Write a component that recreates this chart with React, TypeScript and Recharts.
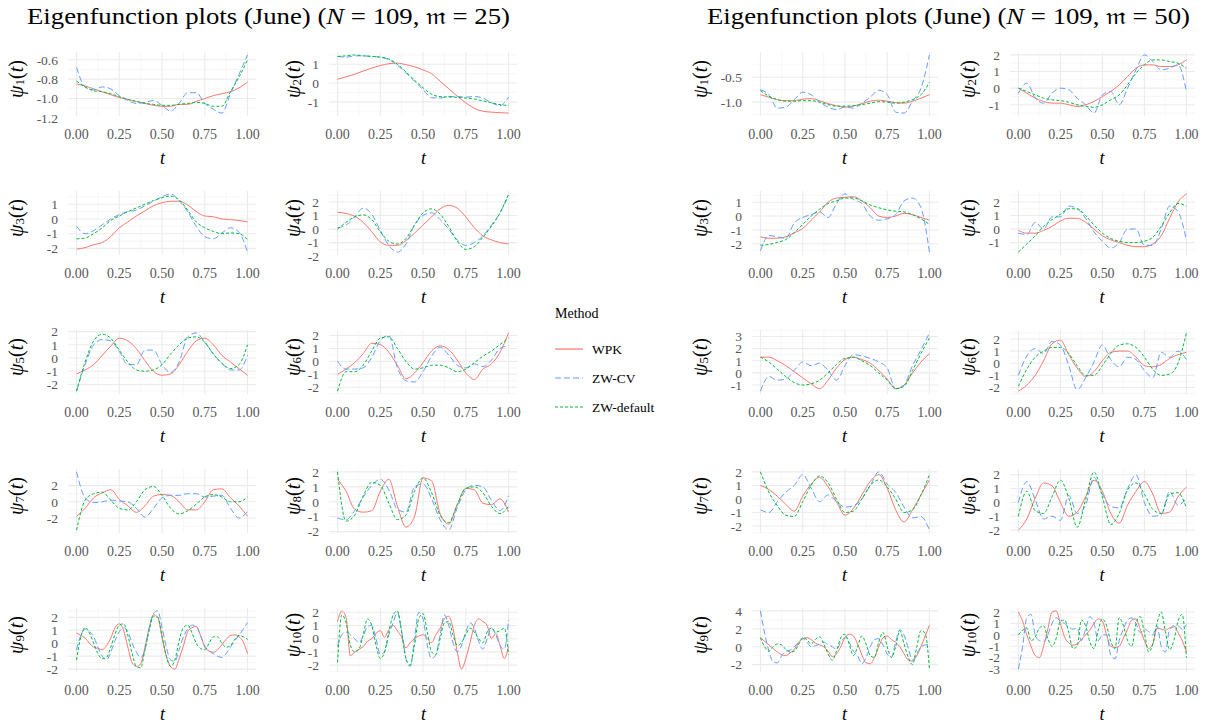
import React from "react";
import { LineChart, Line, XAxis, YAxis, CartesianGrid } from "recharts";

// sample grids (t)
const T21 = [0, 0.05, 0.1, 0.15, 0.2, 0.25, 0.3, 0.35, 0.4, 0.45, 0.5, 0.55, 0.6, 0.65, 0.7, 0.75, 0.8, 0.85, 0.9, 0.95, 1];
const T41 = [
  0, 0.025, 0.05, 0.075, 0.1, 0.125, 0.15, 0.175, 0.2, 0.225, 0.25, 0.275, 0.3, 0.325, 0.35, 0.375, 0.4, 0.425, 0.45, 0.475,
  0.5, 0.525, 0.55, 0.575, 0.6, 0.625, 0.65, 0.675, 0.7, 0.725, 0.75, 0.775, 0.8, 0.825, 0.85, 0.875, 0.9, 0.925, 0.95, 0.975, 1,
];
const X_TICKS = [0, 0.25, 0.5, 0.75, 1];
const X_MINOR = [0.125, 0.375, 0.625, 0.875];

const METHODS = ["WPK", "ZW-CV", "ZW-default"];

// ---- m = 25 ----
const L1_WPK = [-0.85, -0.87, -0.9, -0.93, -0.96, -0.99, -1.01, -1.03, -1.05, -1.07, -1.08, -1.08, -1.06, -1.06, -1.03, -1.0, -0.97, -0.95, -0.93, -0.89, -0.83];
const L1_CV = [-0.68, -0.88, -0.91, -0.88, -0.9, -0.97, -1.02, -1.05, -1.04, -1.02, -1.07, -1.13, -1.05, -0.94, -0.94, -1.05, -1.11, -1.15, -0.95, -0.75, -0.55];
const L1_DEF = [-0.82, -0.88, -0.92, -0.93, -0.95, -0.98, -1.01, -1.03, -1.05, -1.06, -1.07, -1.07, -1.06, -1.05, -1.04, -1.05, -1.08, -1.08, -0.93, -0.78, -0.6];

const L2_WPK = [0.2, 0.33, 0.47, 0.64, 0.8, 0.93, 1.03, 1.06, 0.98, 0.87, 0.7, 0.5, 0.1, -0.3, -0.7, -1.05, -1.35, -1.5, -1.55, -1.58, -1.6];
const L2_CV = [1.42, 1.38, 1.45, 1.45, 1.42, 1.38, 1.25, 0.95, 0.55, 0.1, -0.35, -0.78, -0.8, -0.72, -0.72, -0.75, -0.72, -0.8, -1.05, -1.2, -0.75];
const L2_DEF = [1.42, 1.45, 1.5, 1.45, 1.42, 1.38, 1.28, 1.0, 0.6, 0.15, -0.25, -0.6, -0.72, -0.74, -0.76, -0.8, -0.85, -0.95, -1.05, -1.15, -1.2];

const L3_WPK = [-2.05, -1.95, -1.75, -1.6, -1.2, -0.6, -0.2, 0.2, 0.55, 0.9, 1.1, 1.2, 1.2, 0.95, 0.5, 0.2, 0.15, 0.0, -0.05, -0.1, -0.2];
const L3_CV = [-0.5, -1.0, -0.8, -0.4, 0.0, 0.3, 0.5, 0.6, 0.9, 1.2, 1.5, 1.7, 1.25, 0.5, -0.5, -1.2, -1.35, -0.95, -0.6, -0.9, -2.25];
const L3_DEF = [-1.35, -1.3, -1.0, -0.6, -0.1, 0.2, 0.5, 0.75, 1.0, 1.25, 1.45, 1.55, 1.3, 0.6, -0.2, -0.6, -0.85, -1.0, -0.95, -1.0, -1.4];

const L4_WPK = [1.25, 1.15, 0.95, 0.5, -0.2, -0.95, -1.2, -1.2, -0.85, -0.3, 0.3, 0.9, 1.5, 1.75, 1.55, 0.9, 0.1, -0.5, -0.8, -1.0, -1.1];
const L4_CV = [0.1, 0.3, 0.9, 1.55, 1.1, -0.1, -1.2, -1.7, -1.1, 0.3, 1.0, 1.2, 0.7, 0.0, -0.8, -1.2, -1.0, -0.5, 0.3, 1.2, 2.5];
const L4_DEF = [0.0, 0.5, 0.9, 1.05, 0.7, -0.2, -0.9, -1.1, -0.7, 0.3, 1.2, 1.5, 1.1, 0.2, -0.9, -1.5, -1.3, -0.6, 0.2, 1.2, 2.6];

const L5_WPK = [-1.2, -0.9, -0.5, 0.2, 0.9, 1.5, 1.3, 0.7, -0.2, -1.0, -1.3, -1.2, -0.5, 0.5, 1.3, 1.5, 1.0, 0.2, -0.3, -0.8, -1.3];
const L5_CV = [-2.5, -0.5, 1.0, 1.4, 1.3, 0.5, -0.5, -0.5, 0.6, 0.6, -0.5, -1.1, -0.3, 1.6, 1.9, 1.2, 0.3, -0.4, -0.9, -0.9, 0.2];
const L5_DEF = [-2.5, -0.3, 1.3, 1.8, 1.5, 0.6, -0.3, -0.9, -1.0, -0.9, -0.5, 0.3, 1.0, 1.5, 1.6, 1.2, 0.3, -0.4, -0.8, -0.5, 1.0];

const L6_WPK = [-1.0, -0.6, -0.1, 0.6, 1.4, 1.3, 0.7, -0.3, -1.35, -0.9, -0.1, 0.8, 1.2, 0.9, 0.1, -0.9, -1.4, -0.6, -0.2, 0.7, 2.2];
const L6_CV = [0.0, -0.6, -0.6, -0.5, 0.3, 1.6, 2.0, -0.5, -1.5, -1.6, -0.8, 0.4, 1.1, 0.5, -0.3, -0.5, -0.2, -0.4, 0.1, 1.0, 1.2];
const L6_DEF = [-2.3, -0.8, -0.8, -0.3, 0.8, 1.8, 1.9, 1.0, 0.0, -0.6, -0.5, -0.3, -0.3, -0.5, -0.8, -0.6, -0.1, 0.4, 0.8, 1.3, 1.8];

const L7_WPK = [-1.8, -0.8, 0.5, 1.1, 1.5, 0.3, -0.5, -1.3, -0.5, 0.7, 0.9, 0.8, 0.0, -1.0, -1.0, 0.0, 1.5, 1.6, 0.5, -0.5, -1.8];
const L7_CV = [3.7, 0.5, -0.1, 0.0, 0.2, 0.1, 0.0, -0.8, -1.9, -0.8, 0.5, 0.8, 0.8, 1.0, 1.0, 0.6, 0.7, 0.8, -0.8, -2.0, -1.2];
const L7_DEF = [-3.5, 0.2, 1.0, 1.2, 0.2, -0.8, -1.0, 0.0, 1.5, 1.9, 0.8, -0.8, -1.5, -1.1, -0.3, 0.6, 0.9, 0.6, 0.0, 0.0, 0.6];

const L8_WPK = [1.5, 0.7, -0.5, -0.7, -0.6, 0.7, 1.5, -0.3, -1.7, -1.0, 1.6, 1.4, -0.8, -1.5, -0.2, 0.9, 0.8, -0.1, -0.2, 0.2, -0.7];
const L8_CV = [-1.1, -1.2, -0.6, 0.3, 1.1, 1.5, 0.8, -0.5, -0.7, 1.0, 1.2, 0.2, -1.2, -1.9, -0.4, 0.8, 1.1, 1.0, 0.1, -0.6, 0.4];
const L8_DEF = [2.0, -1.3, -0.9, 0.4, 1.3, 1.1, -0.1, -1.2, -0.9, 0.7, 1.6, 0.6, -0.9, -1.4, -0.2, 0.9, 1.0, 0.6, -0.3, -0.8, -0.3];

const L9_WPK = [0.8, 0.6, 0.4, 0.0, -0.3, -0.4, -0.5, -0.2, 0.4, 1.2, 1.5, 1.0, -0.3, -1.5, -1.8, -1.6, -0.3, 1.2, 2.2, 2.0, 0.5, -1.0, -1.8, -2.0, -1.2, -0.2, 0.9, 1.2, 1.3, 0.6, -0.3, -0.6, -0.7, -0.5, -0.1, 0.3, 0.6, 0.65, 0.5, 0.1, -0.8];
const L9_CV = [-0.5, 0.6, 1.1, 0.9, 0.5, -0.3, -1.0, -1.3, -0.7, 0.2, 0.9, 1.2, 0.9, 0.0, -0.7, -1.1, -0.5, 1.2, 2.3, 2.5, 1.2, -0.3, -1.3, -1.4, -0.5, 0.5, 1.1, 1.4, 1.3, 0.6, -0.2, -0.6, -0.8, -1.0, -1.1, -0.8, -0.3, 0.2, 0.6, 1.1, 1.6];
const L9_DEF = [-1.3, 0.5, 1.2, 0.8, 0.0, -0.8, -1.2, -1.1, -0.3, 0.7, 1.4, 1.5, 0.6, -0.8, -1.8, -1.9, -0.5, 1.0, 2.1, 2.0, 0.5, -1.0, -1.8, -1.3, 0.2, 1.2, 1.4, 0.8, 0.0, -0.4, -0.5, 0.0, 0.5, 0.5, 0.0, -0.3, -0.2, 0.3, 0.6, 0.5, 0.3];

const L10_WPK = [1.3, 2.1, 1.6, -1.3, -1.0, -0.8, -0.6, -0.2, 0.0, 0.4, 0.6, 0.1, 0.7, 1.0, 0.6, 0.1, -0.7, -0.3, 0.0, 0.2, 0.3, 0.0, -0.3, 0.3, 0.8, 1.5, 1.7, 0.8, -1.0, -2.3, -1.5, -0.3, 1.0, 1.5, 1.3, 1.0, 0.0, 0.4, -0.5, -1.5, -0.6];
const L10_CV = [-0.6, 0.3, 0.5, 0.3, 0.0, -0.3, 0.2, 0.9, 1.0, 0.0, -1.2, -1.0, 0.3, 1.2, 2.0, 0.5, -1.5, -2.1, 0.0, 2.0, 1.5, -0.5, -1.5, -1.2, 0.3, 1.8, 1.0, -0.3, -1.0, -0.5, 0.5, 1.2, 0.8, -0.2, -0.8, 0.0, 0.8, 0.3, -0.5, -0.8, 1.4];
const L10_DEF = [-1.8, 1.8, 1.2, -0.5, -1.0, -0.8, 0.3, 1.5, 1.0, -0.5, -1.5, -1.0, 0.5, 1.8, 2.1, 0.5, -1.5, -2.0, -0.5, 1.5, 1.9, 0.5, -1.0, -1.2, 0.0, 1.2, 1.3, 0.3, -0.5, -0.3, 0.3, 0.8, 0.5, 0.0, -0.3, 0.5, 0.8, 0.5, 0.6, 0.8, -1.2];

// ---- m = 50 ----
const R1_WPK = [-0.85, -0.9, -0.95, -0.97, -0.97, -0.94, -0.93, -0.97, -1.03, -1.07, -1.1, -1.08, -1.03, -0.98, -0.96, -0.98, -1.01, -1.02, -0.98, -0.92, -0.85];
const R1_CV = [-0.75, -0.85, -1.12, -1.1, -0.95, -0.8, -0.85, -1.0, -1.1, -1.15, -1.1, -1.12, -1.02, -0.9, -0.76, -0.85, -1.2, -1.22, -0.98, -0.72, -0.05];
const R1_DEF = [-0.77, -0.88, -0.95, -0.98, -0.98, -0.97, -0.97, -1.0, -1.05, -1.08, -1.08, -1.07, -1.05, -1.02, -0.99, -1.0, -1.02, -1.0, -0.95, -0.85, -0.6];

const R2_WPK = [0.0, -0.3, -0.6, -0.8, -0.9, -0.9, -1.0, -1.1, -1.0, -0.8, -0.5, -0.2, 0.2, 0.7, 1.2, 1.4, 1.4, 1.3, 1.3, 1.4, 1.7];
const R2_CV = [-0.3, 0.3, -0.6, -0.9, -0.3, 0.0, -0.1, -0.6, -1.0, -1.5, -0.4, -0.2, -1.0, 0.0, 1.1, 2.0, 1.6, 1.1, 1.2, 1.4, -0.2];
const R2_DEF = [0.0, -0.2, -0.4, -0.6, -0.7, -0.75, -0.85, -1.0, -1.1, -1.15, -1.0, -0.7, -0.4, 0.2, 0.9, 1.4, 1.7, 1.7, 1.6, 1.5, 1.2];

const R3_WPK = [-1.5, -1.6, -1.6, -1.5, -1.2, -0.9, -0.3, 0.3, 1.0, 1.3, 1.35, 1.4, 1.1, 0.6, 0.0, -0.1, 0.0, 0.2, 0.1, -0.1, -0.3];
const R3_CV = [-2.5, -1.4, -1.5, -1.6, -0.5, -0.1, 0.1, 0.3, -0.1, 0.9, 1.6, 1.2, 0.9, 0.0, -0.3, -0.2, 0.1, 1.1, 1.3, 0.6, -2.6];
const R3_DEF = [-2.1, -2.05, -1.9, -1.7, -1.2, -0.6, 0.0, 0.5, 0.9, 1.1, 1.3, 1.3, 1.1, 0.8, 0.6, 0.45, 0.35, 0.3, 0.1, -0.2, -0.6];

const R4_WPK = [-0.1, -0.3, -0.3, -0.1, 0.2, 0.6, 0.8, 0.8, 0.5, 0.0, -0.5, -0.8, -1.0, -1.2, -1.3, -1.3, -1.1, -0.5, 0.8, 2.0, 2.6];
const R4_CV = [-0.3, -0.4, 0.5, 0.0, 0.9, 0.9, 1.7, 1.5, 0.8, -0.2, -0.9, -1.4, -1.0, 0.0, 0.0, -1.2, -1.2, 0.0, 1.7, 1.3, -0.8];
const R4_DEF = [-1.7, -1.1, -0.5, 0.2, 0.7, 1.1, 1.5, 1.5, 1.0, 0.3, -0.3, -0.7, -0.9, -1.0, -1.0, -0.9, -0.6, 0.2, 1.2, 1.9, 1.7];

const R5_WPK = [1.3, 1.3, 1.0, 0.6, 0.1, -0.4, -0.9, -1.3, -0.6, 0.4, 1.1, 1.3, 1.1, 0.8, 0.2, -0.5, -1.3, -1.0, 0.0, 0.9, 1.6];
const R5_CV = [-1.5, -0.3, -0.6, -0.5, 0.2, 0.9, 0.6, 0.8, 0.2, -0.6, 0.6, 1.5, 1.4, 1.2, 0.9, 0.4, -1.3, -1.0, 0.6, 1.9, 3.3];
const R5_DEF = [1.3, 0.9, 0.3, -0.3, -0.8, -1.0, -0.9, -0.6, 0.0, 0.7, 1.2, 1.3, 1.0, 0.6, 0.0, -0.6, -1.3, -1.1, 0.2, 1.6, 2.9];

const R6_WPK = [-2.3, -1.8, -1.0, 0.2, 1.6, 1.9, 0.7, -0.4, -1.1, -0.7, 0.2, 0.9, 1.0, 1.0, 0.5, -0.2, -0.3, -0.1, 0.4, 0.7, 0.9];
const R6_CV = [-1.0, 0.6, 1.2, 0.8, 1.8, 1.5, -0.2, -2.2, -1.2, 0.1, 1.5, 0.3, -0.3, 0.5, 0.3, -0.6, -1.2, 0.9, 0.5, 1.0, 0.3];
const R6_DEF = [-1.9, -0.5, 0.5, 1.0, 1.3, 1.3, 0.8, -0.2, -1.0, -1.0, -0.2, 0.8, 1.5, 1.6, 1.3, 0.5, -0.5, -1.0, -0.9, 0.0, 2.5];

const R7_WPK = [1.0, 0.7, 0.2, -0.4, -0.9, 0.2, 1.1, 1.6, 0.9, -0.2, -1.2, -0.7, 0.3, 1.3, 1.8, 0.8, -0.8, -1.7, -0.8, 0.3, 1.4];
const R7_CV = [-0.8, -1.0, -0.2, 0.5, 1.0, 1.8, 0.8, -0.2, 0.3, -0.2, -0.6, -0.5, 0.0, 1.0, 2.0, 1.1, 0.5, -0.6, -1.4, -1.3, -2.3];
const R7_DEF = [2.0, 0.5, -0.5, -1.2, -1.3, -0.2, 1.0, 1.7, 1.2, 0.0, -1.0, -0.9, 0.0, 1.0, 1.4, 0.9, 0.0, -1.0, -0.8, 0.3, 1.8];

const R8_WPK = [-2.0, -1.2, 0.3, 1.4, 1.2, 0.0, -1.0, -0.7, 0.4, 1.6, 0.8, -0.8, -1.5, -0.2, 0.8, 1.5, 0.6, -0.8, -0.7, 0.4, 1.1];
const R8_CV = [0.0, 1.5, 0.2, -1.2, -1.0, -1.3, 0.5, -0.8, -0.2, 1.8, 0.6, -0.3, -0.4, 1.0, 2.0, 0.0, -1.0, -0.9, 0.8, -0.2, 0.3];
const R8_DEF = [-1.0, 0.8, -0.6, -0.8, 0.4, 1.6, 0.3, -1.8, 0.2, 2.2, 0.4, -1.6, -0.8, 0.9, 1.4, 0.6, -0.5, -0.8, 0.6, 0.7, -0.4];

const R9_WPK = [1.0, 0.6, 0.2, -0.2, -0.6, -0.9, -1.0, -0.7, -0.3, 0.4, 0.9, 1.0, 0.8, 0.4, 0.2, 0.0, -0.5, -1.1, -0.8, 0.0, 1.0, 1.4, 1.2, 0.3, -0.9, -1.8, -1.9, -1.2, 0.0, 1.0, 1.2, 0.8, 0.5, 0.0, -0.8, -1.5, -1.6, -1.0, 0.0, 1.2, 2.4];
const R9_CV = [4.0, 1.5, -0.5, -1.7, -1.8, -1.0, -0.5, -0.4, 0.0, 0.5, 0.9, 0.5, 0.0, 0.1, 0.3, 0.5, 0.2, 0.0, -0.3, 0.5, 1.0, 0.5, -0.5, -1.0, -1.9, -1.2, 0.0, 0.8, 0.9, 0.2, -0.8, -1.2, 0.5, 1.9, 1.3, -0.2, -1.5, -0.8, 0.0, 0.2, 0.3];
const R9_DEF = [1.0, 0.0, -0.5, 0.0, 0.3, 0.2, -0.3, -0.6, -0.5, 0.2, 1.0, 0.8, 0.3, 0.8, 1.1, 0.3, -0.8, -1.5, -0.5, 1.0, 1.4, 0.3, -1.0, 0.0, 1.2, 0.3, -1.0, -1.2, 0.5, 1.6, 0.0, -1.2, 0.0, 1.8, 0.3, -1.2, -2.0, 0.0, 1.8, 1.5, -2.5];

const R10_WPK = [2.0, 1.2, 0.0, -1.0, -1.8, -2.0, -1.0, 0.5, 2.0, 2.1, 1.0, -0.2, -0.7, -0.9, -0.8, -0.4, 0.0, 0.4, 1.0, 1.4, 1.2, 0.0, -1.0, -1.1, -1.0, -0.3, 0.5, 1.3, 1.4, 0.5, -0.5, -1.2, -0.8, 0.6, 0.5, 0.4, 0.6, 0.8, 0.2, -0.5, -1.5];
const R10_CV = [-3.0, -1.0, 1.5, 1.8, 0.0, -0.5, -0.6, 0.0, 1.0, 1.5, 1.2, 1.0, 0.7, 0.5, 0.6, -0.5, 0.5, 1.6, 1.0, -0.5, 0.0, 0.0, -1.8, -2.1, -0.5, 0.5, 1.3, 1.5, 1.0, 0.2, 0.5, 0.3, 0.0, 0.8, -1.0, -1.5, 0.5, 0.7, 0.8, 0.5, 0.9];
const R10_DEF = [0.0, 0.4, 0.6, -0.5, -0.2, 0.6, 0.8, -0.3, -1.0, -0.3, 1.2, 1.3, 0.2, -1.2, -1.0, 1.3, 0.8, -0.6, -1.2, 0.4, 1.4, 0.8, -0.6, -1.2, 1.5, 0.8, -0.5, -1.0, 1.0, 1.6, 0.2, -1.5, -0.8, 1.0, 2.0, 0.3, -1.3, -0.5, 1.2, 1.8, -2.0];

// y tick labels per panel
const L_TICKS = [
  [-1.2, -1.0, -0.8, -0.6], [-1, 0, 1], [-2, -1, 0, 1], [-2, -1, 0, 1, 2], [-2, -1, 0, 1, 2],
  [-2, -1, 0, 1, 2], [-2, 0, 2], [-2, -1, 0, 1, 2], [-2, -1, 0, 1, 2], [-2, -1, 0, 1, 2],
];
const R_TICKS = [
  [-1.0, -0.5], [-1, 0, 1, 2], [-2, -1, 0, 1], [-1, 0, 1, 2], [-1, 0, 1, 2, 3],
  [-2, -1, 0, 1, 2], [-2, -1, 0, 1, 2], [-2, -1, 0, 1, 2], [-2, 0, 2, 4], [-3, -2, -1, 0, 1, 2],
];

const LEFT = [
  [T21, L1_WPK, L1_CV, L1_DEF], [T21, L2_WPK, L2_CV, L2_DEF], [T21, L3_WPK, L3_CV, L3_DEF], [T21, L4_WPK, L4_CV, L4_DEF],
  [T21, L5_WPK, L5_CV, L5_DEF], [T21, L6_WPK, L6_CV, L6_DEF], [T21, L7_WPK, L7_CV, L7_DEF], [T21, L8_WPK, L8_CV, L8_DEF],
  [T41, L9_WPK, L9_CV, L9_DEF], [T41, L10_WPK, L10_CV, L10_DEF],
];
const RIGHT = [
  [T21, R1_WPK, R1_CV, R1_DEF], [T21, R2_WPK, R2_CV, R2_DEF], [T21, R3_WPK, R3_CV, R3_DEF], [T21, R4_WPK, R4_CV, R4_DEF],
  [T21, R5_WPK, R5_CV, R5_DEF], [T21, R6_WPK, R6_CV, R6_DEF], [T21, R7_WPK, R7_CV, R7_DEF], [T21, R8_WPK, R8_CV, R8_DEF],
  [T41, R9_WPK, R9_CV, R9_DEF], [T41, R10_WPK, R10_CV, R10_DEF],
];

const SERIF = '"Liberation Serif", "DejaVu Serif", serif';
const COLORS = ["#F8766D", "#619CFF", "#00BA38"];
const DASHES = [undefined, "6 3", "3 2"];

// layout (page px)
const COLS = [
  { t0: 77, span: 171, lab: 16 },
  { t0: 338, span: 171, lab: 293 },
  { t0: 760, span: 169, lab: 700 },
  { t0: 1018, span: 168, lab: 968 },
];
const ROW_TOP = 52;
const ROW_STEP = 139;
const PLOT_H = 64;
const AX_W = 75;
const AX_H = 50;
const PAD_T = 12;
const PAD_R = 8;

const xTickStyle = { fontFamily: SERIF, fontSize: 14, fill: "#555" };
const yTickStyle = { fontFamily: SERIF, fontSize: 13.5, fill: "#555" };

function Panel({ k, col, set, yTicks }: any) {
  const c = COLS[col];
  const row = Math.floor((k - 1) / 2);
  const plotTop = ROW_TOP + ROW_STEP * row;
  const plotLeft = c.t0 - 0.05 * c.span;
  const plotW = 1.1 * c.span;
  const [t, wpk, cv, def] = set;
  const data = t.map((x: number, i: number) => ({ t: x, wpk: wpk[i], cv: cv[i], def: def[i] }));
  const all = [...wpk, ...cv, ...def];
  const lo = Math.min(...all);
  const hi = Math.max(...all);
  const pad = 0.05 * (hi - lo);
  const domain = [lo - pad, hi + pad];
  const step = yTicks[1] - yTicks[0];
  const inside = (v: number) => v > domain[0] && v < domain[1];
  const yMinor = [yTicks[0] - step / 2, ...yTicks.map((v: number) => v + step / 2)].filter(inside);
  const yMajor = yTicks.filter(inside);
  const dec = Math.abs(step) < 1 ? 1 : 0;
  return (
    <div style={{ position: "absolute", left: plotLeft - AX_W, top: plotTop - PAD_T }}>
      <LineChart
        width={AX_W + plotW + PAD_R}
        height={PAD_T + PLOT_H + AX_H}
        data={data}
        margin={{ top: PAD_T, right: PAD_R, bottom: 0, left: 0 }}
      >
        <CartesianGrid horizontalValues={yMinor} verticalValues={X_MINOR} stroke="#F3F3F3" strokeWidth={0.7} />
        <CartesianGrid horizontalValues={yMajor} verticalValues={X_TICKS} stroke="#EBEBEB" strokeWidth={1.1} />
        <XAxis
          type="number"
          dataKey="t"
          domain={[-0.05, 1.05]}
          ticks={X_TICKS}
          interval={0}
          tickFormatter={(v: number) => v.toFixed(2)}
          tickLine={false}
          axisLine={false}
          tickMargin={7}
          height={AX_H}
          tick={xTickStyle}
        />
        <YAxis
          type="number"
          domain={domain}
          ticks={yTicks}
          interval={0}
          tickFormatter={(v: number) => v.toFixed(dec)}
          tickLine={false}
          axisLine={false}
          tickMargin={4}
          width={AX_W}
          tick={yTickStyle}
        />
        {["wpk", "cv", "def"].map((key, i) => (
          <Line
            key={key}
            type="monotone"
            dataKey={key}
            stroke={COLORS[i]}
            strokeWidth={1}
            strokeDasharray={DASHES[i]}
            dot={false}
            isAnimationActive={false}
          />
        ))}
      </LineChart>
    </div>
  );
}

function Labels({ k, col }: any) {
  const c = COLS[col];
  const row = Math.floor((k - 1) / 2);
  const plotTop = ROW_TOP + ROW_STEP * row;
  const cy = plotTop + 27;
  const cx = c.lab;
  return (
    <g fontFamily={SERIF} fill="#000">
      <text
        x={cx}
        y={cy}
        transform={`rotate(-90 ${cx} ${cy})`}
        textAnchor="middle"
        dominantBaseline="central"
        fontSize={20}
      >
        <tspan fontStyle="italic">ψ</tspan>
        <tspan fontSize={13} dy={3}>{k}</tspan>
        <tspan dy={-3}>(</tspan>
        <tspan fontStyle="italic">t</tspan>
        <tspan>)</tspan>
      </text>
      <text x={c.t0 + c.span / 2} y={plotTop + PLOT_H + 48} textAnchor="middle" fontSize={18} fontStyle="italic">
        t
      </text>
    </g>
  );
}

export default function App() {
  const panels: any[] = [];
  LEFT.forEach((set, i) => panels.push({ k: i + 1, col: i % 2, set, yTicks: L_TICKS[i] }));
  RIGHT.forEach((set, i) => panels.push({ k: i + 1, col: 2 + (i % 2), set, yTicks: R_TICKS[i] }));
  return (
    <div style={{ position: "absolute", left: 0, top: 0, width: 1227, height: 726, background: "#fff", overflow: "hidden" }}>
      {panels.map((p, i) => (
        <Panel key={i} {...p} />
      ))}
      <svg width={1227} height={726} style={{ position: "absolute", left: 0, top: 0, pointerEvents: "none" }}>
        <text x={27} y={24} fontFamily={SERIF} fontSize={23} textLength={483} lengthAdjust="spacingAndGlyphs">
          Eigenfunction plots (June) (<tspan fontStyle="italic">N</tspan> = 109, 𝔪 = 25)
        </text>
        <text x={707} y={24} fontFamily={SERIF} fontSize={23} textLength={483} lengthAdjust="spacingAndGlyphs">
          Eigenfunction plots (June) (<tspan fontStyle="italic">N</tspan> = 109, 𝔪 = 50)
        </text>
        {panels.map((p, i) => (
          <Labels key={i} k={p.k} col={p.col} />
        ))}
        <g fontFamily={SERIF} fontSize={14}>
          <text x={555} y={318}>Method</text>
          {METHODS.map((m, i) => (
            <g key={m}>
              <line x1={555} x2={583} y1={349 + 29 * i} y2={349 + 29 * i} stroke={COLORS[i]} strokeWidth={1.2} strokeDasharray={DASHES[i]} />
              <text x={592} y={354 + 29 * i} fontSize={13.5}>{m}</text>
            </g>
          ))}
        </g>
      </svg>
    </div>
  );
}
